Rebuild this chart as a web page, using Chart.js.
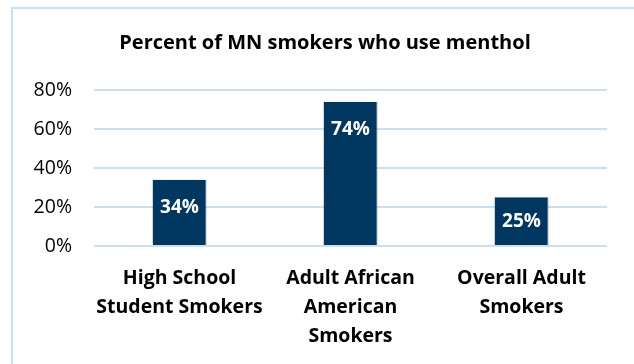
<!DOCTYPE html>
<html>
<head>
<meta charset="utf-8">
<script src="https://cdn.jsdelivr.net/npm/chart.js@4/dist/chart.umd.min.js"></script>
<style>
  body { margin: 0; background: #fff; }
  #wrap { position: relative; width: 634px; height: 364px; overflow: hidden; }
  #frame {
    position: absolute; left: 11px; top: 7px; width: 700px; height: 400px;
    border-top: 2px solid #c6e0f7; border-left: 2px solid #c6e0f7;
  }
  canvas { position: absolute; left: 0; top: 0; }
</style>
</head>
<body>
<div id="wrap">
  <div id="frame"></div>
  <canvas id="mentholChart" width="634" height="364"></canvas>
</div>
<script>
// datos
const categories = [
  ["High School", "Student Smokers"],
  ["Adult African", "American", "Smokers"],
  ["Overall Adult", "Smokers"],
];
const percentMenthol = [34, 74, 25];
const yTicks = [0, 20, 40, 60, 80];
const chartTitle = "Percent of MN smokers who use menthol";

const FONT = "'Open Sans', Lato, sans-serif";

// titulo (centrado como en el original, no sobre el canvas)
const titleText = {
  id: "titleText",
  afterDraw(chart) {
    const ctx = chart.ctx;
    ctx.save();
    ctx.fillStyle = "#000";
    ctx.font = "bold 20px " + FONT;
    ctx.textAlign = "center";
    ctx.textBaseline = "middle";
    ctx.fillText(chartTitle, 325, 43);
    ctx.restore();
  },
};

// etiquetas blancas dentro de las barras
const barLabels = {
  id: "barLabels",
  afterDatasetsDraw(chart) {
    const ctx = chart.ctx;
    const meta = chart.getDatasetMeta(0);
    ctx.save();
    ctx.fillStyle = "#ffffff";
    ctx.font = "bold 19px " + FONT;
    ctx.textAlign = "center";
    ctx.textBaseline = "middle";
    meta.data.forEach((bar, i) => {
      const h = bar.base - bar.y;
      const off = Math.min(28, h / 2);
      ctx.fillText(percentMenthol[i] + "%", bar.x, bar.y + off);
    });
    ctx.restore();
  },
};

const ctx = document.getElementById("mentholChart").getContext("2d");
const mentholChart = new Chart(ctx, {
  type: "bar",
  data: {
    labels: categories,
    datasets: [
      {
        data: percentMenthol,
        backgroundColor: "#003761",
        borderColor: "#2b5680",
        borderWidth: { right: 1 },
        barPercentage: 0.315,
        categoryPercentage: 1,
      },
    ],
  },
  options: {
    responsive: false,
    animation: false,
    devicePixelRatio: 1,
    layout: { padding: { left: 0, right: 27, top: 90, bottom: 0 } },
    scales: {
      y: {
        min: 0,
        max: 80,
        afterBuildTicks: (axis) => {
          axis.ticks = yTicks.map((v) => ({ value: v }));
        },
        afterFit: (axis) => {
          axis.width = 94;
        },
        border: { display: false },
        grid: { color: "#c6e0f7", lineWidth: 2, drawTicks: false },
        ticks: {
          color: "#000",
          padding: 22,
          font: { family: FONT, size: 19.5 },
          callback: (v) => v + "%",
        },
      },
      x: {
        afterFit: (axis) => {
          axis.height = 118;
        },
        border: { display: false },
        grid: { display: false },
        ticks: {
          color: "#000",
          padding: 10,
          maxRotation: 0,
          autoSkip: false,
          font: { family: FONT, size: 19.5, weight: "bold", lineHeight: 1.49 },
        },
      },
    },
    plugins: {
      legend: { display: false },
      tooltip: { enabled: false },
      title: { display: false },
    },
  },
  plugins: [barLabels, titleText],
});
</script>
</body>
</html>
